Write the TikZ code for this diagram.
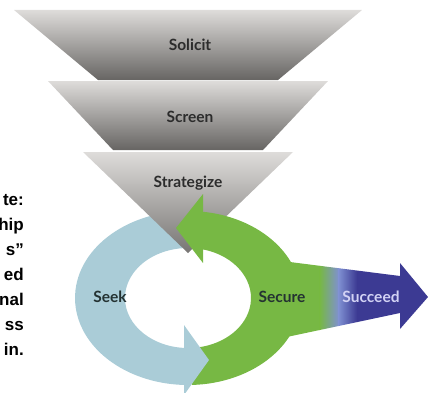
\documentclass[tikz,border=0pt]{standalone}
\usepackage{fontspec}
\setmainfont{Lato}
\newfontfamily\notefont{Liberation Sans}
\definecolor{funtop}{HTML}{DEDCDA}
\definecolor{funmid}{HTML}{B9B7B5}
\definecolor{funbot}{HTML}{676563}
\definecolor{seekblue}{HTML}{AACCD7}
\definecolor{securegreen}{HTML}{77B844}
\definecolor{succeedmid}{HTML}{7F90D2}
\definecolor{succeedblue}{HTML}{3C3A93}
\definecolor{labelgray}{HTML}{2C2C2C}
\definecolor{ringtext}{HTML}{243232}
\definecolor{succeedtext}{HTML}{D2D2F4}
\begin{document}
\begin{tikzpicture}[x=1pt,y=1pt,
  layer/.style={top color=funtop, middle color=funmid, bottom color=funbot},
  funlabel/.style={text=labelgray, font=\bfseries\fontsize{15.5}{18}\selectfont, inner sep=0pt},
  ringlabel/.style={text=ringtext, font=\bfseries\fontsize{15.5}{18}\selectfont, inner sep=0pt},
  note/.style={anchor=base east, inner sep=0pt, font=\notefont\bfseries\fontsize{17}{20}\selectfont}]
\useasboundingbox (0,0) rectangle (428,392);
\clip (0,0) rectangle (428,392);
\coordinate (c) at (188,94);

% Seek: light blue arc on the left side of the cycle
\fill[seekblue] ([shift={(85:113 and 87)}]c)
  arc[start angle=85, end angle=270, x radius=113, y radius=87]
  -- ([shift={(270:63 and 50)}]c)
  arc[start angle=270, end angle=85, x radius=63, y radius=50] -- cycle;

% Funnel layers
\shade[layer] (14,382) -- (362,382) -- (278,312) -- (98,312) -- cycle;
\shade[layer] (48,311) -- (328,311) -- (263,242) -- (113,242) -- cycle;
\shade[layer, middle color=funmid!85!funtop, bottom color=funbot!80!funmid] (83,240) -- (293,240) -- (188,139) -- cycle;

% Succeed: arrow leaving the cycle, green fading to blue
\begin{scope}
  \clip (282,131) -- (400,116) -- (400,129) -- (428,95) -- (400,63) -- (400,79) -- (282,54) -- cycle;
  \fill[securegreen] (270,40) rectangle (320,140);
  \shade[left color=securegreen, right color=succeedmid] (319.5,40) rectangle (339,140);
  \shade[left color=succeedmid, right color=succeedblue] (338.5,40) rectangle (357,140);
  \fill[succeedblue] (356.5,40) rectangle (430,140);
\end{scope}

% Secure: green arc on the right side, arrowhead at the top
\fill[securegreen] ([shift={(-88:113 and 87)}]c)
  arc[start angle=-88, end angle=83, x radius=113, y radius=87]
  -- ([shift={(77:63 and 50)}]c)
  arc[start angle=77, end angle=-85, x radius=63, y radius=50] -- cycle;
\fill[securegreen] (203,198) -- (176,164) -- (203,129) -- cycle;

% Seek arrowhead at the bottom
\fill[seekblue] (184,67) -- (209,32) -- (184,-3) -- cycle;

% Labels
\node[funlabel] (solicit) at (190,347) {Solicit};
\node[funlabel] (screen) at (190,275) {Screen};
\node[funlabel] (strategize) at (188,209) {Strategize};
\node[ringlabel] (seek) at (110,95) {Seek};
\node[ringlabel] (secure) at (282,95) {Secure};
\node[ringlabel, text=succeedtext] (succeed) at (371,95) {Succeed};

% Side note
\foreach \t [count=\i] in {te:,hip,s”,ed,nal,ss,in.}
  \node[note] (note\i) at (24,212-25*\i) {\t};
\end{tikzpicture}
\end{document}
